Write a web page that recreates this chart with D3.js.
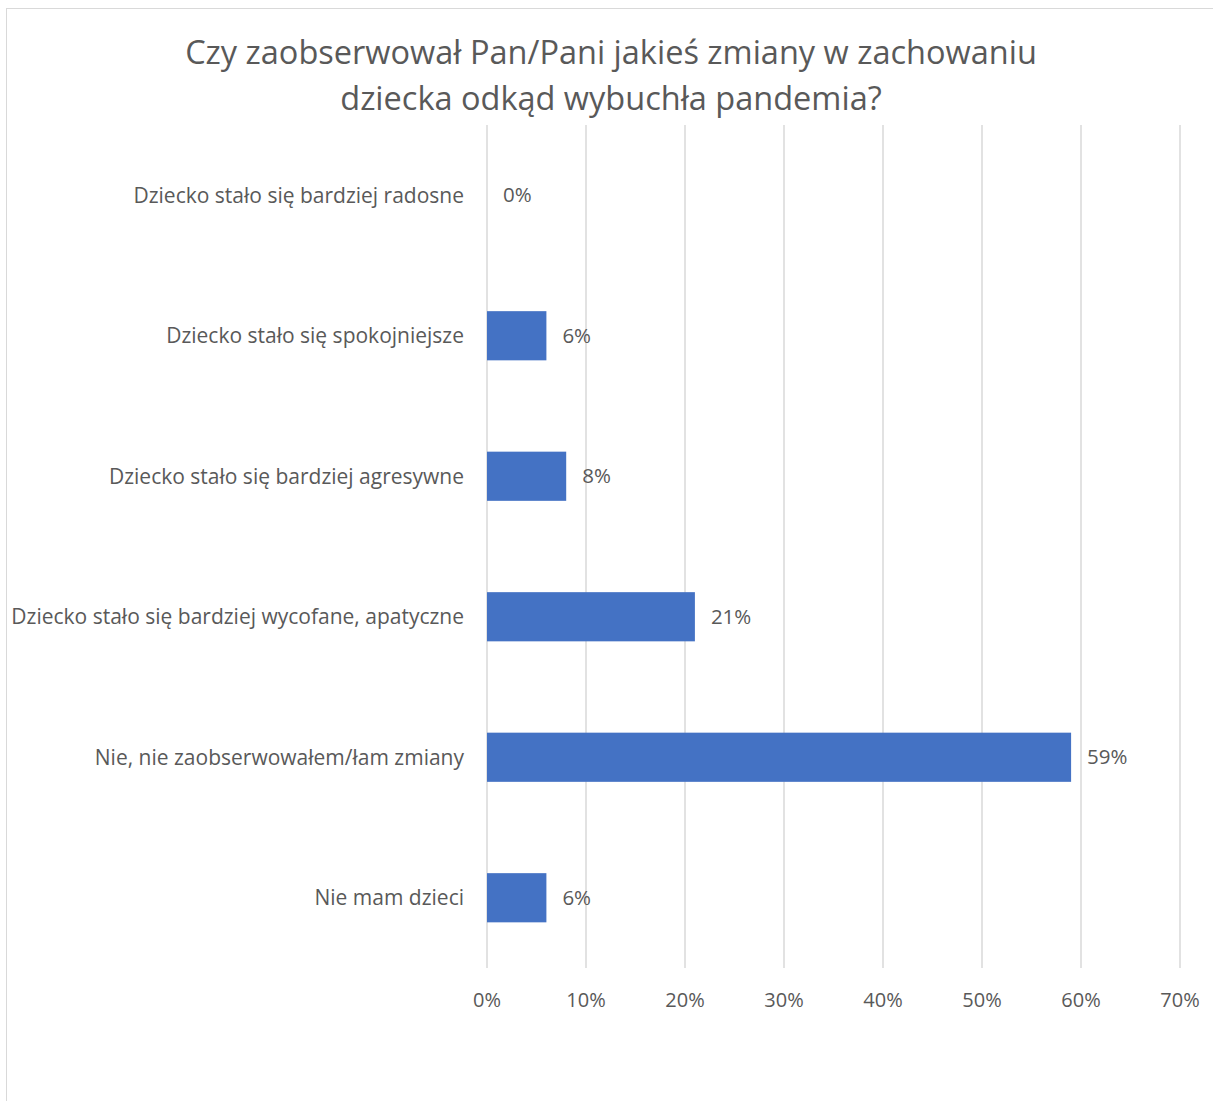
<!DOCTYPE html>
<html>
<head>
<meta charset="utf-8">
<script src="https://cdn.jsdelivr.net/npm/d3@7"></script>
<style>
  body { margin: 0; background: #fff; }
  text { font-family: "Open Sans", "Liberation Sans", sans-serif; fill: #595959; }
</style>
</head>
<body>
<div id="viz"></div>
<script>
// Survey answers, top to bottom
const categories = [
  "Dziecko stało się bardziej radosne",
  "Dziecko stało się spokojniejsze",
  "Dziecko stało się bardziej agresywne",
  "Dziecko stało się bardziej wycofane, apatyczne",
  "Nie, nie zaobserwowałem/łam zmiany",
  "Nie mam dzieci",
];
const values = [0, 6, 8, 21, 59, 6]; // percent
const ticks = [0, 10, 20, 30, 40, 50, 60, 70];
const titleLines = [
  "Czy zaobserwował Pan/Pani jakieś zmiany w zachowaniu",
  "dziecka odkąd wybuchła pandemia?",
];

const width = 1213, height = 1101;
const plot = { left: 487, right: 1180, top: 125, bottom: 968 };

const svg = d3.select("#viz").append("svg")
  .attr("width", width)
  .attr("height", height);

// chart frame (right/bottom edges fall outside the picture)
svg.append("rect")
  .attr("x", 6.5).attr("y", 8.5)
  .attr("width", 1240).attr("height", 1120)
  .attr("fill", "none")
  .attr("stroke", "#d9d9d9");

const x = d3.scaleLinear().domain([0, 70]).range([plot.left, plot.right]);
const y = d3.scaleBand().domain(categories).range([plot.top, plot.bottom]).paddingInner(0.65).paddingOuter(0.325);

// gridlines
svg.append("g")
  .selectAll("line")
  .data(ticks)
  .join("line")
  .attr("x1", d => x(d)).attr("x2", d => x(d))
  .attr("y1", plot.top).attr("y2", plot.bottom)
  .attr("stroke", "#d9d9d9")
  .attr("stroke-width", 1.5);

// x tick labels
svg.append("g")
  .selectAll("text")
  .data(ticks)
  .join("text")
  .attr("x", d => x(d))
  .attr("y", 1007)
  .attr("text-anchor", "middle")
  .attr("font-size", 20)
  .text(d => d + "%");

// bars
svg.append("g")
  .selectAll("rect")
  .data(values)
  .join("rect")
  .attr("x", x(0))
  .attr("y", (d, i) => y(categories[i]))
  .attr("width", d => x(d) - x(0))
  .attr("height", y.bandwidth())
  .attr("fill", "#4472c4");

// value labels
svg.append("g")
  .selectAll("text")
  .data(values)
  .join("text")
  .attr("x", d => x(d) + 16)
  .attr("y", (d, i) => y(categories[i]) + y.bandwidth() / 2)
  .attr("dy", "0.35em")
  .attr("font-size", 20.5)
  .text(d => d + "%");

// category labels
svg.append("g")
  .selectAll("text")
  .data(categories)
  .join("text")
  .attr("x", 464)
  .attr("y", d => y(d) + y.bandwidth() / 2)
  .attr("dy", "0.35em")
  .attr("text-anchor", "end")
  .attr("font-size", 21)
  .text(d => d);

// title
svg.append("g")
  .selectAll("text")
  .data(titleLines)
  .join("text")
  .attr("x", 611)
  .attr("y", (d, i) => 64 + i * 46)
  .attr("text-anchor", "middle")
  .attr("font-size", 32.5)
  .text(d => d);
</script>
</body>
</html>
